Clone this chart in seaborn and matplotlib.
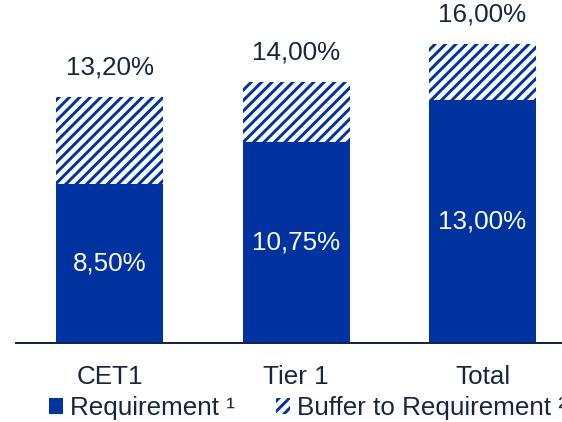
import matplotlib
matplotlib.use("Agg")
import matplotlib.pyplot as plt
import matplotlib.patches as mpatches
import pandas as pd
import seaborn as sns

# Capital ratio requirements and buffers (in %)
categories = ["CET1", "Tier 1", "Total"]
requirement = [8.50, 10.75, 13.00]
total_with_buffer = [13.20, 14.00, 16.00]
legend_labels = ["Requirement \u00b9", "Buffer to Requirement \u00b2"]

BLUE = "#0033A0"
NAVY = "#17253f"

sns.set_style("white")
plt.rcParams["font.family"] = ["Liberation Sans", "DejaVu Sans"]
plt.rcParams["hatch.linewidth"] = 1.7

df = pd.DataFrame({
    "category": categories,
    "requirement": requirement,
    "total": total_with_buffer,
})

def pct(v):
    return f"{v:.2f}".replace(".", ",") + "%"

fig = plt.figure(figsize=(5.62 * 100 / 125, 4.22 * 100 / 125), dpi=125)
ax = fig.add_axes([16 / 562, 79 / 422, 1 - 16 / 562, 343 / 422])

bar_w = 0.574

# Full height (requirement + buffer) drawn hatched, requirement solid on top
sns.barplot(data=df, x="category", y="total", ax=ax, color="white",
            saturation=1, width=bar_w, errorbar=None,
            edgecolor=BLUE, linewidth=0, hatch="////")
sns.barplot(data=df, x="category", y="requirement", ax=ax, color=BLUE,
            saturation=1, width=bar_w, errorbar=None, linewidth=0)

for i, row in df.iterrows():
    ax.annotate(pct(row["total"]), xy=(i, row["total"]), xytext=(0, 10),
                textcoords="offset points", ha="center", va="bottom",
                fontsize=15, color=NAVY)
    ax.text(i, row["requirement"] / 2, pct(row["requirement"]),
            ha="center", va="center", fontsize=15, color="white")

ax.set_xlim(-0.502, 2.426)
ax.set_ylim(0, 18.37)
ax.set_xlabel("")
ax.set_ylabel("")
ax.set_yticks([])
ax.tick_params(axis="x", length=0, pad=12.5, labelsize=15, labelcolor=NAVY)
for side in ["top", "left", "right"]:
    ax.spines[side].set_visible(False)
ax.spines["bottom"].set_color(NAVY)
ax.spines["bottom"].set_linewidth(1.15)

handles = [
    mpatches.Patch(facecolor=BLUE, edgecolor=BLUE, linewidth=0),
    mpatches.Patch(facecolor="white", edgecolor=BLUE, linewidth=0, hatch="////"),
]
fig.legend(handles, legend_labels, loc="center left",
           bbox_to_anchor=(49 / 562, 14 / 422), ncol=2, frameon=False,
           fontsize=15, labelcolor=NAVY, handlelength=0.54, handleheight=0.54,
           handletextpad=0.25, columnspacing=1.6, borderpad=0, borderaxespad=0)

fig.savefig("out.png", dpi=125)
